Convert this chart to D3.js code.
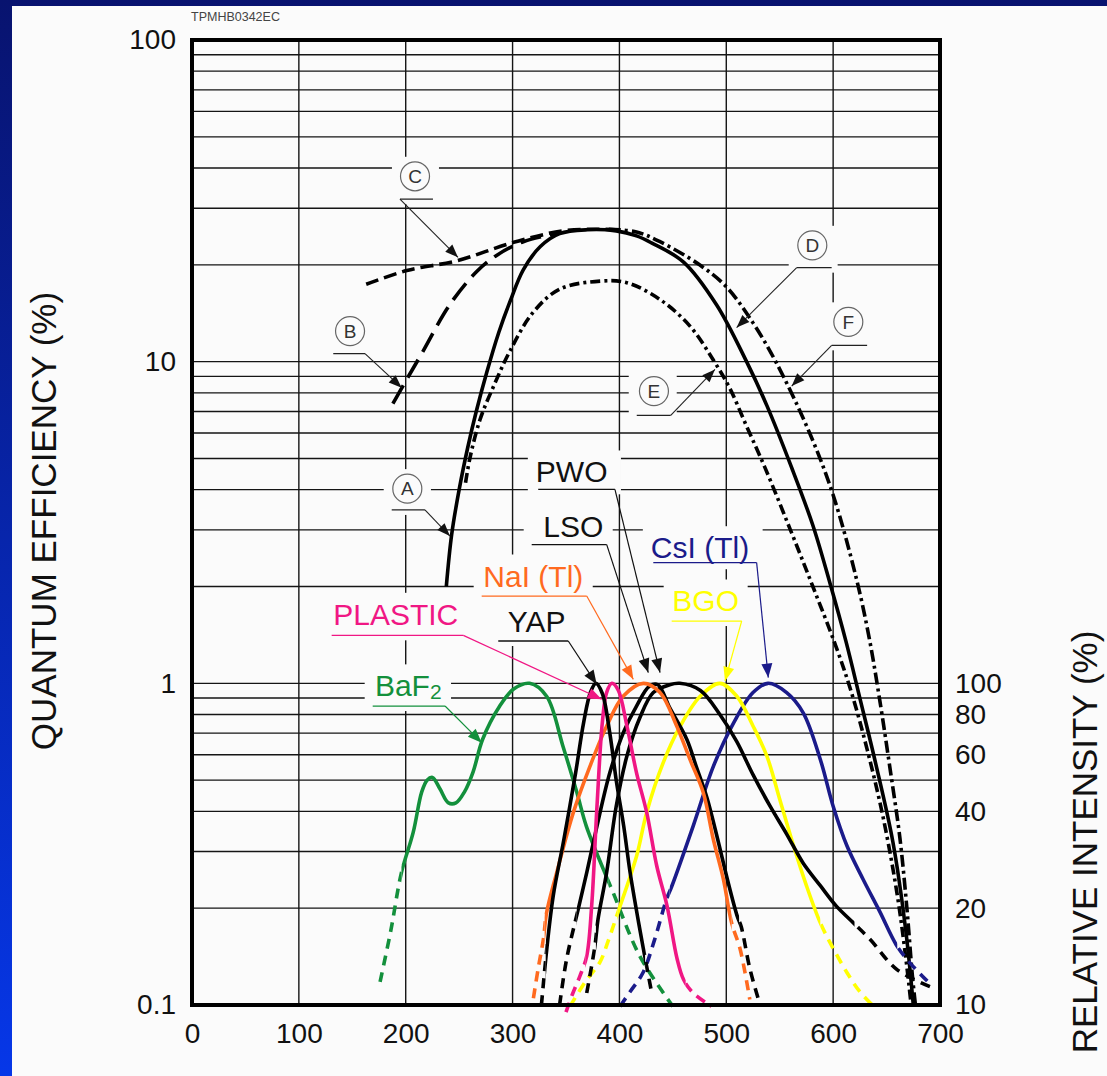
<!DOCTYPE html>
<html><head><meta charset="utf-8">
<script src="https://cdn.jsdelivr.net/npm/d3@7"></script>
<style>html,body{margin:0;padding:0;background:#fbfbfb;}svg{display:block}</style>
</head><body><svg id="c" width="1107" height="1076"></svg>
<script>
// ---------------- DATA ----------------
const xTickValues = [0,100,200,300,400,500,600,700];
const leftTickValues = [0.1,1,10,100];
const leftTickLabels = ["0.1","1","10","100"];
const rightTickValues = [10,20,40,60,80,100];
const gridMinor = [2,3,4,5,6,7,8,9];

// Photocathode quantum efficiency curves [nm, %]
const qeA = [[238,2.0],[243,2.9],[250,4.0],[258,5.4],[266,7.0],[276,9.3],[287,12.3],[298,15.5],[310,19.3],[326,22.8],[344,25.0],[370,25.7],[397,25.5],[416,24.6],[430,23.4],[460,20.4],[491,15.0],[519,10.0],[538,7.3],[561,4.7],[581,3.1],[597,2.05],[612,1.35],[625,0.9],[640,0.56],[656,0.32],[668,0.17],[675,0.1]];
const qeB = [[188,7.4],[200,8.7],[215,10.6],[241,15.0],[266,19.0],[285,21.4],[310,23.6],[345,25.2]];
const qeC = [[163,17.4],[201,19.2],[248,20.6],[301,23.5],[347,25.5],[380,25.8],[405,25.6]];
const qeE = [[256,4.2],[260,5.0],[269.5,6.6],[283,8.5],[297.6,10.8],[319,14.2],[344,16.8],[382,17.8],[407,17.6],[438,15.6],[466,12.9],[488,10.1],[503,8.3],[519,6.3],[536,4.7],[560,3.0],[581,2.0],[602,1.32],[617,0.94],[632,0.62],[647,0.38],[660,0.22],[668,0.14],[673,0.1]];
const qeF = [[390,25.8],[416,25.3],[438,23.6],[475,20.0],[500,17.1],[525,13.2],[547,9.9],[578,6.0],[600,3.85],[622,2.1],[634,1.37],[644,0.87],[653,0.55],[662.5,0.33],[669,0.2],[674,0.125],[677,0.1]];

// Scintillator emission spectra [nm, relative intensity %]
const baf2 = [[176,11.8],[186,17],[196,25.8],[207,34.4],[215,46],[220,50],[225,51],[232,47],[240,42.5],[247,42.5],[255,46],[263,53],[272,67],[288,85],[301,96],[316,100],[332,91],[347,64],[360,46],[369,36],[385,26.4],[394,22.4],[419,14.2],[450,9.9]];
const yap = [[327,10],[332,14.9],[338,21.8],[348,32.7],[359,52.7],[366.5,75.5],[373,94],[378,100],[384,93],[391,70],[397,50],[404,36],[410,25.8],[418,18],[424,14],[430,11]];
const plastic = [[350,9.5],[356,10.8],[363,12.3],[369.4,14.2],[374,20.3],[379,41.5],[384,75.5],[388,93.6],[393,100],[399,95],[407,73.7],[416,52.7],[425.5,39.7],[435,27],[444.6,20.3],[454,13.9],[460,12],[469,10.9],[486,9.9]];
const nai = [[319.5,10.5],[324,13],[328.8,16],[331.9,19.4],[341.3,25.8],[356.9,39.7],[372.5,55.3],[388.1,73.7],[403.7,91.3],[422.4,100],[438,93.6],[453.6,73.7],[466,58],[478.5,45.7],[487.9,32.7],[497.3,24.6],[505,18],[513,14.9],[522,10.4]];
const lso = [[344,10],[350.6,13.9],[361.5,19.9],[369.4,25.8],[379,36],[391,52.7],[403.7,70.3],[416,85],[428,98],[436,99],[447,84],[463,67],[472,55],[482,44],[492,32.7],[501,24.6],[510,19],[514,17.5],[522,13],[531.6,10]];
const pwo = [[369.4,10.9],[377,15.2],[380,18.5],[388,25.8],[397,41.5],[407,59.4],[419,78],[431.7,93.6],[447,99],[456.5,100],[475.8,95],[494,80],[509.7,66],[525,52],[541,41.5],[556.5,34],[572,27.6],[588,23.5],[603,20.3],[619,18],[634.5,16],[659.5,12.9],[690.6,11.4]];
const bgo = [[353.7,9.9],[368,11.8],[381.8,13.6],[390,16],[397.4,18.9],[416,29],[425.5,39.7],[441,56.7],[457,73.7],[475.8,91.3],[494,100],[509.7,91.3],[525,73.7],[538,59.4],[550,43.6],[563,31.2],[575,23.5],[588,18],[600,15],[613,12.6],[625,11],[638,9.9]];
const csi = [[400.5,9.9],[410,11],[422,12.6],[433,16],[444,21.3],[449,23.4],[469,36],[488,55.3],[507,75.5],[525,93.6],[539,100],[556.5,93.6],[572,81],[588,58],[600,41.5],[613,31.2],[628,24.6],[644,19.4],[659,15.4],[672,13.5],[690,11.7]];

// ---------------- SETUP ----------------
const W=1107,H=1076, L=192,R=940,T=40,B=1005;
const FONT="'Liberation Sans', Arial, Helvetica, sans-serif";
const svg=d3.select("#c");
const defs=svg.append("defs");
const grad=defs.append("linearGradient").attr("id","bg").attr("x1",0).attr("y1",0).attr("x2",0).attr("y2",1);
grad.append("stop").attr("offset","0%").attr("stop-color","#08136f");
grad.append("stop").attr("offset","100%").attr("stop-color","#0637e8");
svg.append("rect").attr("width",W).attr("height",H).attr("fill","url(#bg)");
svg.append("rect").attr("x",12).attr("y",6).attr("width",W-12).attr("height",H-6).attr("fill","#fbfbfb");

const x=d3.scaleLinear().domain([0,700]).range([L,R]);
const y=d3.scaleLog().domain([0.1,100]).range([B,T]);
const yRel=d3.scaleLog().domain([10,100]).range([B,y(1)]);

const gGrid=svg.append("g"), gBox=svg.append("g"), gCurve=svg.append("g"), gFrame=svg.append("g"), gLab=svg.append("g");

// grid
const hVals=[];
[0.1,1,10].forEach(d=>gridMinor.forEach(k=>hVals.push(d*k)));
hVals.push(1,10);
gGrid.selectAll("line.h").data(hVals).join("line").attr("class","h")
 .attr("x1",L).attr("x2",R).attr("y1",d=>y(d)).attr("y2",d=>y(d))
 .attr("stroke","#151515").attr("stroke-width",1.4);
gGrid.selectAll("line.v").data(xTickValues.slice(1,-1)).join("line").attr("class","v")
 .attr("x1",d=>x(d)).attr("x2",d=>x(d)).attr("y1",T).attr("y2",B)
 .attr("stroke","#151515").attr("stroke-width",1.4);

// curves
const line=d3.line().x(d=>x(d[0])).y(d=>y(d[1])).curve(d3.curveCatmullRom.alpha(0.5));
const relLine=d3.line().x(d=>x(d[0])).y(d=>yRel(d[1])).curve(d3.curveCatmullRom.alpha(0.5));

const qeSeries=[
 {data:qeC,dash:"13,6"},
 {data:qeB,dash:"21,9"},
 {data:qeE,dash:"10,4,3,4"},
 {data:qeF,dash:"12,4,3,4"},
 {data:qeA,dash:null}
];
qeSeries.forEach(s=>{
 gCurve.append("path").attr("d",line(s.data)).attr("fill","none").attr("stroke","#000")
  .attr("stroke-width",3.6).attr("stroke-dasharray",s.dash).attr("stroke-linejoin","round");
});

const spectra=[
 {name:"baf2",data:baf2,color:"#13903c",solid:[196,390]},
 {name:"csi",data:csi,color:"#1b1b8a",solid:[447,660]},
 {name:"bgo",data:bgo,color:"#ffff00",solid:[398,588]},
 {name:"pwo",data:pwo,color:"#000000",solid:[378,620]},
 {name:"lso",data:lso,color:"#000000",solid:[360,512]},
 {name:"nai",data:nai,color:"#ff6a1f",solid:[330,505]},
 {name:"plastic",data:plastic,color:"#f01784",solid:[368,462]},
 {name:"yap",data:yap,color:"#000000",solid:[331,424]}
];
spectra.forEach((s,i)=>{
 const cs=defs.append("clipPath").attr("id","cs"+i);
 cs.append("rect").attr("x",x(s.solid[0])).attr("y",0).attr("width",x(s.solid[1])-x(s.solid[0])).attr("height",H);
 const cd=defs.append("clipPath").attr("id","cd"+i);
 cd.append("rect").attr("x",0).attr("y",0).attr("width",x(s.solid[0])).attr("height",H);
 cd.append("rect").attr("x",x(s.solid[1])).attr("y",0).attr("width",W-x(s.solid[1])).attr("height",H);
 const d=relLine(s.data);
 gCurve.append("path").attr("d",d).attr("fill","none").attr("stroke",s.color).attr("stroke-width",3.6)
  .attr("stroke-dasharray","10,7").attr("clip-path",`url(#cd${i})`);
 gCurve.append("path").attr("d",d).attr("fill","none").attr("stroke",s.color).attr("stroke-width",3.6)
  .attr("clip-path",`url(#cs${i})`);
});

// frame
gFrame.append("rect").attr("x",L).attr("y",T).attr("width",R-L).attr("height",B-T)
 .attr("fill","none").attr("stroke","#000").attr("stroke-width",4);

// axes
function styleAxis(g){g.select(".domain").remove();g.selectAll("line").remove();
 g.selectAll("text").attr("font-family",FONT).attr("font-size",28).attr("fill","#111");}
svg.append("g").attr("transform",`translate(${L},0)`)
 .call(d3.axisLeft(y).tickValues(leftTickValues).tickFormat((d,i)=>leftTickLabels[i]).tickSize(0).tickPadding(16)).call(styleAxis);
svg.append("g").attr("transform",`translate(0,${B})`)
 .call(d3.axisBottom(x).tickValues(xTickValues).tickFormat(d3.format("d")).tickSize(0).tickPadding(18)).call(styleAxis);
svg.append("g").attr("transform",`translate(${R},0)`)
 .call(d3.axisRight(yRel).tickValues(rightTickValues).tickFormat(d3.format("d")).tickSize(0).tickPadding(15)).call(styleAxis);

// titles
svg.append("text").attr("transform","translate(44,521) rotate(-90)").attr("text-anchor","middle").attr("dy","0.35em")
 .attr("font-family",FONT).attr("font-size",35).attr("fill","#111").text("QUANTUM EFFICIENCY (%)");
svg.append("text").attr("transform","translate(1085,842) rotate(-90)").attr("text-anchor","middle").attr("dy","0.35em")
 .attr("font-family",FONT).attr("font-size",35).attr("fill","#111").text("RELATIVE INTENSITY (%)");
svg.append("text").attr("x",191).attr("y",21).attr("font-family",FONT).attr("font-size",12.5).attr("fill","#444").text("TPMHB0342EC");

// ---------------- ANNOTATIONS ----------------
const circleLabels=[
 {t:"A",cx:201.5,cy:4.03,u:[186.9,218.0],uy:3.46,from:1,tip:[241.4,2.87]},
 {t:"B",cx:147.9,cy:12.45,u:[132.2,161.9],uy:10.59,from:1,tip:[196.2,8.30]},
 {t:"C",cx:208.7,cy:37.7,u:[194.6,225.5],uy:32.0,from:0,tip:[248.9,21.1]},
 {t:"D",cx:580.5,cy:23.0,u:[565.9,598.6],uy:19.6,from:0,tip:[509.7,12.76]},
 {t:"E",cx:432.3,cy:8.10,u:[416.2,448.0],uy:6.81,from:1,tip:[489.4,9.46]},
 {t:"F",cx:614.2,cy:13.3,u:[598.6,631.8],uy:11.24,from:0,tip:[561.2,8.40]}
];
const specLabels=[
 {t:"PWO",c:"#111",cx:355.3,cy:4.54,u:[324.0,395.8],uy:4.01,tip:[438.0,1.08]},
 {t:"LSO",c:"#111",cx:356.8,cy:3.07,u:[317.9,388.1],uy:2.70,tip:[427.0,1.08]},
 {t:"NaI (Tl)",c:"#ff6a1f",cx:319.4,cy:2.156,u:[271.1,369.4],uy:1.868,tip:[413.0,1.029]},
 {t:"YAP",c:"#111",cx:322.6,cy:1.562,u:[286.6,352.1],uy:1.354,tip:[378.7,0.993]},
 {t:"PLASTIC",c:"#f01784",cx:190.7,cy:1.639,u:[130.7,253.9],uy:1.410,tip:[383.4,0.892]},
 {t:"BaF",sub:"2",c:"#13903c",cx:202.4,cy:0.982,u:[169.1,236.8],uy:0.850,tip:[271.1,0.654]},
 {t:"BGO",c:"#ffff00",cx:480.7,cy:1.803,u:[448.9,514.4],uy:1.562,tip:[498.8,1.017]},
 {t:"CsI (Tl)",c:"#1b1b8a",cx:475.4,cy:2.64,u:[431.7,528.4],uy:2.372,tip:[539.3,1.042]}
];

function arrowHead(g,x0,y0,x1,y1,color,len,hw){
 const a=Math.atan2(y1-y0,x1-x0);
 const bx=x1-len*Math.cos(a), by=y1-len*Math.sin(a);
 const px=-Math.sin(a)*hw, py=Math.cos(a)*hw;
 g.append("path").attr("d",`M${x1},${y1}L${bx+px},${by+py}L${bx-px},${by-py}Z`).attr("fill",color);
}
function addBox(grp){
 const bb=grp.node().getBBox();
 gBox.append("rect").attr("x",bb.x-8).attr("y",bb.y-5).attr("width",bb.width+14).attr("height",bb.height+10).attr("fill","#fbfbfb");
}

circleLabels.forEach(d=>{
 const g=gLab.append("g");
 const core=g.append("g");
 core.append("circle").attr("cx",x(d.cx)).attr("cy",y(d.cy)).attr("r",14.5).attr("fill","none").attr("stroke","#666").attr("stroke-width",1.2);
 core.append("text").attr("x",x(d.cx)).attr("y",y(d.cy)).attr("dy","0.36em").attr("text-anchor","middle")
  .attr("font-family",FONT).attr("font-size",19).attr("fill","#333").text(d.t);
 const uy=y(d.uy);
 core.append("line").attr("x1",x(d.u[0])).attr("x2",x(d.u[1])).attr("y1",uy).attr("y2",uy).attr("stroke","#222").attr("stroke-width",1.2);
 addBox(core);
 const sx=x(d.u[d.from]), tx=x(d.tip[0]), ty=y(d.tip[1]);
 g.append("line").attr("x1",sx).attr("y1",uy).attr("x2",tx).attr("y2",ty).attr("stroke","#222").attr("stroke-width",1.1);
 arrowHead(g,sx,uy,tx,ty,"#111",13,5);
});

specLabels.forEach(d=>{
 const g=gLab.append("g");
 const core=g.append("g");
 const t=core.append("text").attr("x",x(d.cx)).attr("y",y(d.cy)).attr("dy","0.35em").attr("text-anchor","middle")
  .attr("font-family",FONT).attr("font-size",30).attr("fill",d.c);
 t.append("tspan").text(d.t);
 if(d.sub) t.append("tspan").attr("font-size",21).attr("dy",3).text(d.sub);
 const uy=y(d.uy);
 core.append("line").attr("x1",x(d.u[0])).attr("x2",x(d.u[1])).attr("y1",uy).attr("y2",uy).attr("stroke",d.c).attr("stroke-width",1.3);
 addBox(core);
 const sx=x(d.u[1]), tx=x(d.tip[0]), ty=y(d.tip[1]);
 g.append("line").attr("x1",sx).attr("y1",uy).attr("x2",tx).attr("y2",ty).attr("stroke",d.c).attr("stroke-width",1.2);
 arrowHead(g,sx,uy,tx,ty,d.c,14,5.5);
});
</script></body></html>
